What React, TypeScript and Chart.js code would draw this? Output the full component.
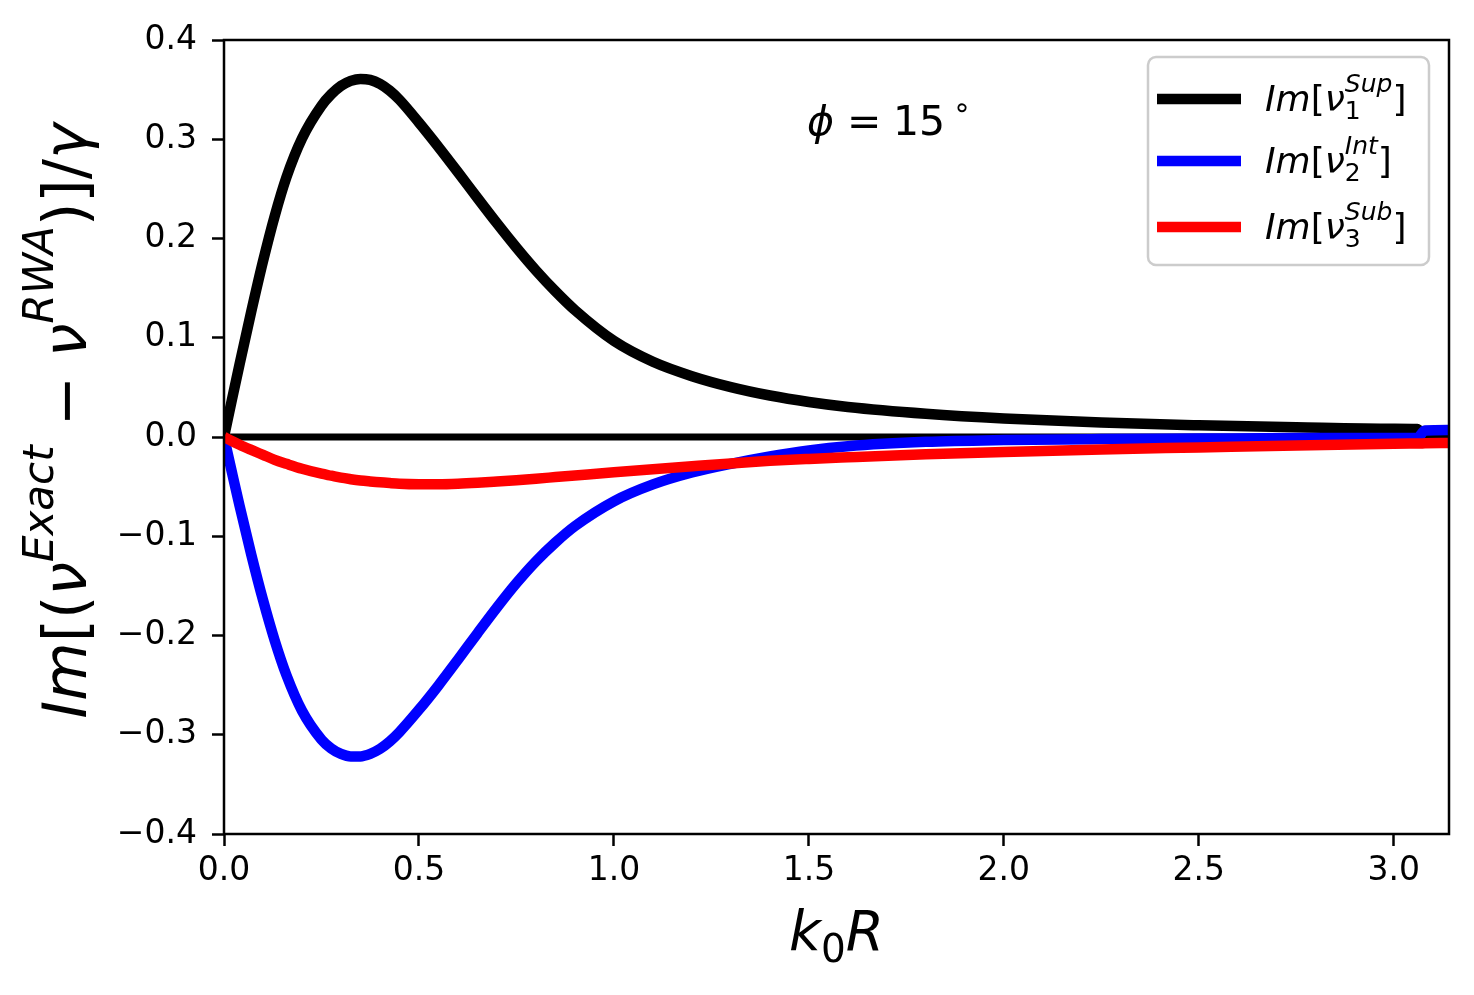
import React, { useEffect, useRef } from "react";
import { Chart, registerables } from "chart.js";

Chart.register(...registerables);

// k0R grid shared by the three curves
const kR = [
  0, 0.02, 0.04, 0.07, 0.1, 0.13, 0.16, 0.2, 0.25, 0.275, 0.3, 0.325, 0.35,
  0.375, 0.4, 0.425, 0.45, 0.5, 0.55, 0.6, 0.65, 0.7, 0.75, 0.8, 0.85, 0.9,
  1.0, 1.1, 1.2, 1.3, 1.4, 1.5, 1.6, 1.8, 2.0, 2.25, 2.5, 2.75, 3.0, 3.06,
  3.08, Math.PI,
];

// Im[nu_1^Sup]
const supValues = [
  0, 0.037, 0.0734, 0.1265, 0.177, 0.2226, 0.2616, 0.3008, 0.3338, 0.3453,
  0.3538, 0.3588, 0.3608, 0.3598, 0.3558, 0.349, 0.3398, 0.3168, 0.2923,
  0.2668, 0.2408, 0.2153, 0.1908, 0.1678, 0.1468, 0.1278, 0.0968, 0.0758,
  0.0613, 0.0503, 0.0418, 0.0353, 0.0303, 0.0235, 0.0187, 0.0145, 0.0118,
  0.0098, 0.0083, 0.008, -0.001, -0.001,
];

// Im[nu_2^Int]
const intValues = [
  0, -0.035, -0.0694, -0.1186, -0.1642, -0.205, -0.2398, -0.2758, -0.3048,
  -0.3138, -0.3193, -0.3218, -0.3218, -0.3193, -0.3143, -0.3068, -0.2973,
  -0.2748, -0.2503, -0.2243, -0.1978, -0.1718, -0.1473, -0.1253, -0.1063,
  -0.0898, -0.0648, -0.0478, -0.0358, -0.027, -0.0195, -0.0135, -0.0093,
  -0.0049, -0.0031, -0.0021, -0.0016, -0.0011, -0.001, -0.001, 0.0065, 0.007,
];

// Im[nu_3^Sub]
const subValues = [
  0, -0.004, -0.0078, -0.013, -0.018, -0.023, -0.027, -0.032, -0.037, -0.039,
  -0.041, -0.0425, -0.0438, -0.0448, -0.0457, -0.0464, -0.047, -0.0476,
  -0.0477, -0.0472, -0.0462, -0.0449, -0.0435, -0.042, -0.0404, -0.0388,
  -0.0356, -0.0325, -0.0295, -0.0266, -0.024, -0.0221, -0.0205, -0.0175,
  -0.015, -0.0125, -0.0105, -0.0085, -0.0068, -0.0065, -0.0064, -0.006,
];

const xTicks = [0, 0.5, 1.0, 1.5, 2.0, 2.5, 3.0];
const yTicks = [-0.4, -0.3, -0.2, -0.1, 0, 0.1, 0.2, 0.3, 0.4];

const seriesColors = ["#000000", "#0000ff", "#ff0000"];
const seriesSups = ["Sup", "Int", "Sub"];
const seriesSubs = ["1", "2", "3"];

const FONT = '"DejaVu Sans"';

type Seg = { t: string; size: number; italic?: boolean; dy?: number; hold?: boolean };

function drawSegs(ctx: CanvasRenderingContext2D, segs: Seg[], x: number, y: number, draw = true) {
  let cx = x;
  let held = 0;
  for (const s of segs) {
    ctx.font = `${s.italic ? "italic " : ""}${s.size}px ${FONT}`;
    const w = ctx.measureText(s.t).width;
    if (draw) ctx.fillText(s.t, cx, y + (s.dy || 0));
    if (s.hold) {
      held = w;
    } else {
      cx += Math.max(w, held);
      held = 0;
    }
  }
  return cx - x;
}

const fmt = (v: number) => (v < -1e-9 ? "\u2212" : "") + Math.abs(v).toFixed(1);

const mathPlugin = {
  id: "mathText",
  afterDraw(chart: any) {
    const { ctx, chartArea } = chart;
    const { left, right, top, bottom } = chartArea;
    const xs = chart.scales.x;
    const ys = chart.scales.y;
    ctx.save();
    ctx.fillStyle = "#000";
    ctx.textBaseline = "alphabetic";
    ctx.textAlign = "left";

    // frame
    ctx.strokeStyle = "#000";
    ctx.lineWidth = 2.5;
    ctx.strokeRect(left, top, right - left, bottom - top);

    // annotation phi = 15 deg
    const ax = xs.getPixelForValue(1.5);
    const ay = ys.getPixelForValue(0.3) - 4;
    ctx.font = `italic 41px ${FONT}`;
    ctx.fillText("\u03d5", ax - 2, ay);
    ctx.font = `41px ${FONT}`;
    ctx.fillText("=", ax + 38, ay);
    ctx.fillText("15", ax + 84, ay);
    ctx.font = `29px ${FONT}`;
    ctx.fillText("\u2218", ax + 144, ay - 18);

    // legend
    const bw = 281;
    const bh = 208;
    const bx = right - 20 - bw;
    const by = top + 17;
    ctx.beginPath();
    ctx.roundRect(bx, by, bw, bh, 8);
    ctx.fillStyle = "rgba(255,255,255,0.8)";
    ctx.fill();
    ctx.strokeStyle = "#cccccc";
    ctx.lineWidth = 2.5;
    ctx.stroke();
    const rows = [42, 104, 170];
    for (let i = 0; i < 3; i++) {
      const ry = by + rows[i];
      ctx.beginPath();
      ctx.moveTo(bx + 9, ry);
      ctx.lineTo(bx + 93, ry);
      ctx.strokeStyle = seriesColors[i];
      ctx.lineWidth = 10.5;
      ctx.stroke();
      ctx.fillStyle = "#000";
      drawSegs(
        ctx,
        [
          { t: "Im", size: 36, italic: true },
          { t: "[", size: 36 },
          { t: "\u03bd", size: 36, italic: true },
          { t: seriesSups[i], size: 25, italic: true, dy: -19, hold: true },
          { t: seriesSubs[i], size: 25, dy: 8 },
          { t: "]", size: 36 },
        ],
        bx + 117,
        ry + 12
      );
    }

    // x axis title k0R
    ctx.fillStyle = "#000";
    const xSegs: Seg[] = [
      { t: "k", size: 55, italic: true },
      { t: "0", size: 39, dy: 12 },
      { t: "R", size: 55, italic: true },
    ];
    const xw = drawSegs(ctx, xSegs, 0, 0, false);
    drawSegs(ctx, xSegs, (left + right) / 2 - xw / 2, 950);

    // y axis title
    const ySegs: Seg[] = [
      { t: "Im", size: 60, italic: true },
      { t: "[(", size: 60 },
      { t: "\u03bd", size: 60, italic: true },
      { t: "Exact", size: 42, italic: true, dy: -33 },
      { t: " \u2212 ", size: 60 },
      { t: "\u03bd", size: 60, italic: true },
      { t: "RWA", size: 42, italic: true, dy: -33 },
      { t: ")]/", size: 60 },
      { t: "\u03b3", size: 60, italic: true },
    ];
    const yw = drawSegs(ctx, ySegs, 0, 0, false);
    ctx.translate(86, 421);
    ctx.rotate(-Math.PI / 2);
    drawSegs(ctx, ySegs, -yw / 2, 0);
    ctx.restore();
  },
};

const App: React.FC = () => {
  const canvasRef = useRef<HTMLCanvasElement | null>(null);
  const chartRef = useRef<Chart | null>(null);

  useEffect(() => {
    document.body.style.margin = "0";
    if (!canvasRef.current) return;
    if (chartRef.current) chartRef.current.destroy();
    const ctx = canvasRef.current.getContext("2d");
    if (!ctx) return;

    const pts = (vals: number[]) => kR.map((x, i) => ({ x, y: vals[i] }));
    const lineDs = (vals: number[], color: string, order: number) => ({
      data: pts(vals),
      borderColor: color,
      borderWidth: 10.5,
      pointRadius: 0,
      fill: false,
      cubicInterpolationMode: "monotone" as const,
      clip: 0,
      order,
    });

    chartRef.current = new Chart(ctx, {
      type: "line",
      data: {
        datasets: [
          lineDs(subValues, seriesColors[2], 1),
          lineDs(intValues, seriesColors[1], 2),
          lineDs(supValues, seriesColors[0], 3),
          {
            data: [
              { x: 0, y: 0 },
              { x: Math.PI, y: 0 },
            ],
            borderColor: "#000000",
            borderWidth: 7,
            pointRadius: 0,
            fill: false,
            clip: 0,
            order: 4,
          },
        ],
      },
      options: {
        animation: false,
        responsive: false,
        devicePixelRatio: 1,
        layout: { padding: { top: 40, right: 25, left: 0, bottom: 0 } },
        plugins: { legend: { display: false }, tooltip: { enabled: false } },
        scales: {
          x: {
            type: "linear",
            min: 0,
            max: Math.PI,
            afterBuildTicks: (s: any) => {
              s.ticks = xTicks.map((value) => ({ value }));
            },
            afterFit: (s: any) => {
              s.height = 161;
            },
            ticks: {
              callback: (v: any) => fmt(Number(v)),
              font: { family: "DejaVu Sans", size: 33 },
              color: "#000",
              padding: 6,
              maxRotation: 0,
              autoSkip: false,
            },
            grid: {
              display: true,
              drawOnChartArea: false,
              drawTicks: true,
              tickLength: 12,
              tickWidth: 2.5,
              tickColor: "#000",
              color: "#000",
            },
            border: { display: false },
          },
          y: {
            type: "linear",
            min: -0.4,
            max: 0.4,
            afterBuildTicks: (s: any) => {
              s.ticks = yTicks.map((value) => ({ value }));
            },
            afterFit: (s: any) => {
              s.width = 224;
            },
            ticks: {
              callback: (v: any) => fmt(Number(v)),
              font: { family: "DejaVu Sans", size: 33 },
              color: "#000",
              padding: 15,
              autoSkip: false,
            },
            grid: {
              display: true,
              drawOnChartArea: false,
              drawTicks: true,
              tickLength: 12,
              tickWidth: 2.5,
              tickColor: "#000",
              color: "#000",
            },
            border: { display: false },
          },
        },
      },
      plugins: [mathPlugin],
    });

    return () => {
      if (chartRef.current) {
        chartRef.current.destroy();
        chartRef.current = null;
      }
    };
  }, []);

  return (
    <div style={{ width: 1474, height: 995, background: "#fff" }}>
      <canvas ref={canvasRef} width={1474} height={995} />
    </div>
  );
};

export default App;
